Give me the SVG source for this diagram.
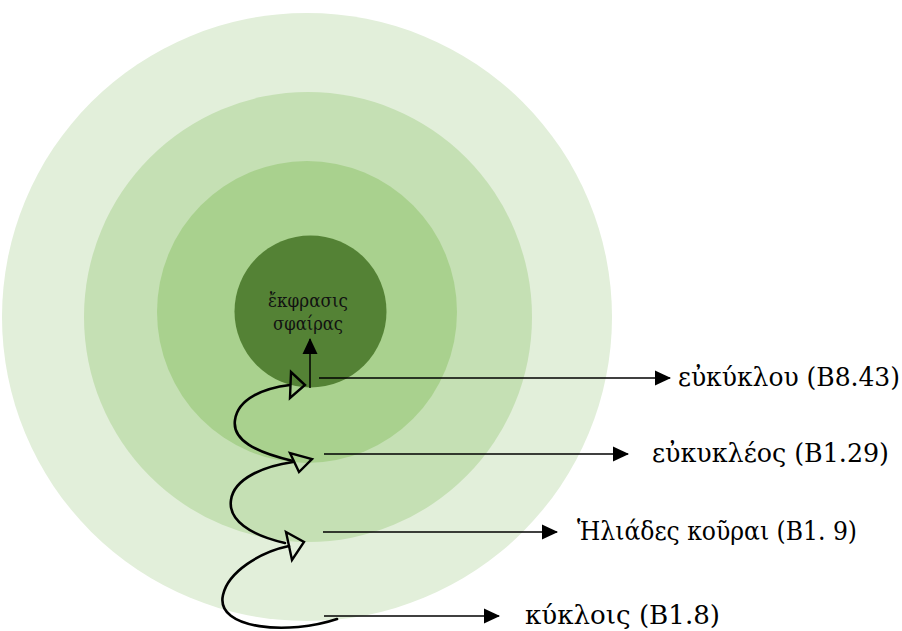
<svg xmlns="http://www.w3.org/2000/svg" width="902" height="631" viewBox="0 0 902 631">
<defs>
<style>
.lbl{font-family:'DejaVu Serif Condensed','DejaVu Serif',serif;font-stretch:condensed;font-size:26px;fill:#000}
.ctr{font-family:'DejaVu Serif Condensed','DejaVu Serif',serif;font-stretch:condensed;font-size:19px;fill:#111;text-anchor:middle}
.ln{stroke:#000;stroke-width:1.5;fill:none}
.sp{stroke:#000;stroke-width:2.6;fill:none;stroke-linecap:round}
.tri{stroke:#000;stroke-width:2.4;fill:none;stroke-linejoin:miter}
</style>
<marker id="ah" markerUnits="userSpaceOnUse" markerWidth="16" markerHeight="16" viewBox="0 0 16 16" refX="15" refY="8" orient="auto">
<path d="M0,0.5 L16,8 L0,15.5 Z" fill="#000"/>
</marker>
</defs>
<g id="rings">
<g id="ring-outer"><ellipse cx="307" cy="317" rx="305" ry="304" fill="#E2EFDA"/></g>
<g id="ring-2"><ellipse cx="308" cy="317" rx="224" ry="225" fill="#C5E0B4"/></g>
<g id="ring-3"><ellipse cx="307" cy="312" rx="150" ry="151" fill="#A9D18E"/></g>
<g id="core"><circle cx="310.5" cy="311.5" r="76" fill="#548235"/>
<text class="ctr" x="308" y="307" textLength="80" lengthAdjust="spacingAndGlyphs">ἔκφρασις</text>
<text class="ctr" x="308" y="330" textLength="70" lengthAdjust="spacingAndGlyphs">σφαίρας</text></g>
</g>
<g id="connectors">
<path class="sp" d="M337,619 C290,635 215,630 223,595 C228,572 260,552 289,546"/>
<polygon class="tri" points="286,532 292,560 304,542"/>
<path class="sp" d="M285,543 C250,535 228,520 231,500 C234,478 265,466 293,462"/>
<polygon class="tri" points="290,453 299,472 312,459"/>
<path class="sp" d="M293,461 C255,452 232,440 235,420 C238,398 265,388 290,385"/>
<polygon class="tri" points="291,372 290,398 305,385"/>
<line class="ln" x1="310" y1="388" x2="310" y2="339" marker-end="url(#ah)"/>
<line class="ln" x1="319" y1="378" x2="670" y2="378" marker-end="url(#ah)"/>
<line class="ln" x1="324" y1="454" x2="628" y2="454" marker-end="url(#ah)"/>
<line class="ln" x1="323" y1="532" x2="557" y2="532" marker-end="url(#ah)"/>
<line class="ln" x1="324" y1="616" x2="499" y2="616" marker-end="url(#ah)"/>
</g>
<g id="labels">
<g id="lbl-1"><text class="lbl" x="678" y="386" textLength="222" lengthAdjust="spacingAndGlyphs">εὐκύκλου (B8.43)</text></g>
<g id="lbl-2"><text class="lbl" x="652" y="462" textLength="237" lengthAdjust="spacingAndGlyphs">εὐκυκλέος (B1.29)</text></g>
<g id="lbl-3"><text class="lbl" x="577" y="540" textLength="280" lengthAdjust="spacingAndGlyphs">Ἡλιάδες κοῦραι (B1. 9)</text></g>
<g id="lbl-4"><text class="lbl" x="525" y="624" textLength="195" lengthAdjust="spacingAndGlyphs">κύκλοις (B1.8)</text></g>
</g>
</svg>
